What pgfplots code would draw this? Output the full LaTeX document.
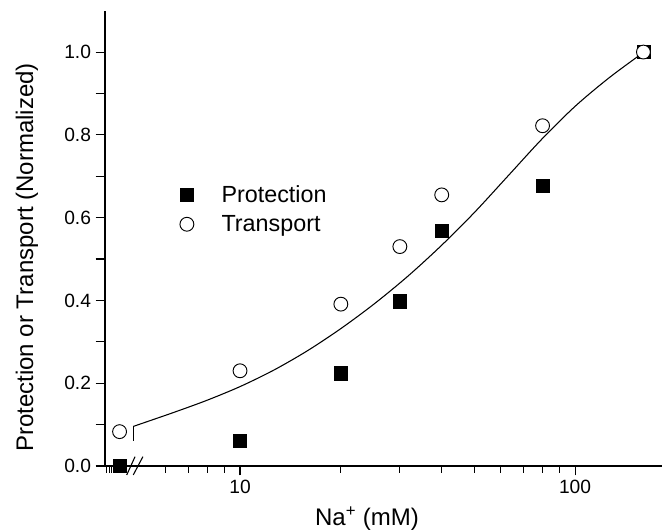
\documentclass[border=0pt]{standalone}
\usepackage{fontspec}
\setmainfont{Liberation Sans}
\usepackage{pgfplots}
\pgfplotsset{compat=1.18}
\begin{document}
\begin{tikzpicture}
\begin{axis}[
  at={(78.75pt,48.75pt)}, anchor=south west,
  scale only axis, width=417.75pt, height=341.5pt,
  xmode=log, log basis x=10,
  xmin=3.954, xmax=181.8, ymin=0, ymax=1.1,
  axis x line*=bottom, axis y line*=left,
  axis line style={line width=0.8pt},
  tick align=outside,
  xtick={10,100}, xticklabels={10,100},
  minor xtick={4,4.07,4.13,4.2,6,7,8,9,20,30,40,50,60,70,80,90},
  ytick={0,0.2,0.4,0.6,0.8,1.0},
  yticklabels={0.0,0.2,0.4,0.6,0.8,1.0},
  extra y ticks={0.1,0.3,0.5,0.7,0.9}, extra y tick labels={},
  major tick length=7pt, minor tick length=5pt,
  every tick/.style={black, line width=0.8pt},
  /pgf/number format/assume math mode=true,
  tick label style={font=\fontsize{14.4}{17}\selectfont},
  label style={font=\fontsize{18}{21}\selectfont},
  xlabel={Na\textsuperscript{+} (mM)},
  ylabel={Protection or Transport (Normalized)},
  xlabel style={at={(axis description cs:0.4704,-0.1296)}, anchor=base},
  ylabel style={at={(axis description cs:-0.1400,0.458)}, anchor=center},
  clip=false,
  legend style={draw=none, fill=none, at={(axis description cs:0.125,0.628)}, anchor=north west,
    font=\fontsize{17.5}{21}\selectfont, row sep=4pt},
  legend image code/.code={\draw[#1] plot coordinates {(0pt,0pt)}; \path[draw=none, fill=none] (-6pt,-6pt) rectangle (24pt,6pt);},
  legend cell align=left,
]
\addplot[only marks, mark=square*, mark size=4.9pt, mark options={black, fill=black}]
  coordinates {(4.37,0.0) (10,0.061) (20,0.224) (30,0.398) (40,0.569) (80,0.678) (160,1.0)};
\addlegendentry{Protection}
\addplot[only marks, mark=*, mark size=5.2pt, mark options={black, fill=white, line width=0.7pt}]
  coordinates {(4.37,0.083) (10,0.230) (20,0.391) (30,0.530) (40,0.655) (80,0.822) (160,1.0)};
\addlegendentry{Transport}
\addplot[black, line width=0.8pt, forget plot] coordinates {(4.80,0.061) (4.80,0.0955)};
\addplot[black, line width=0.8pt, smooth, forget plot] coordinates {
 (4.80,0.0955) (5.012,0.1008) (6.310,0.1288) (7.943,0.1583) (10,0.1918)
 (12.59,0.2313) (15.85,0.2778) (19.95,0.3313) (25.12,0.3913) (31.62,0.4578)
 (39.81,0.5318) (50.12,0.6128) (63.10,0.7008) (79.43,0.7888) (100,0.8688)
 (125.9,0.9368) (158.5,0.9968) (160,0.9995)};
\draw[line width=0.8pt] (axis cs:4.59,-0.0217) -- (axis cs:4.86,0.0225);
\draw[line width=0.8pt] (axis cs:4.80,-0.0217) -- (axis cs:5.13,0.0225);
\end{axis}
\pgfresetboundingbox
\useasboundingbox (0,0) rectangle (500.25pt,398.25pt);
\end{tikzpicture}
\end{document}
